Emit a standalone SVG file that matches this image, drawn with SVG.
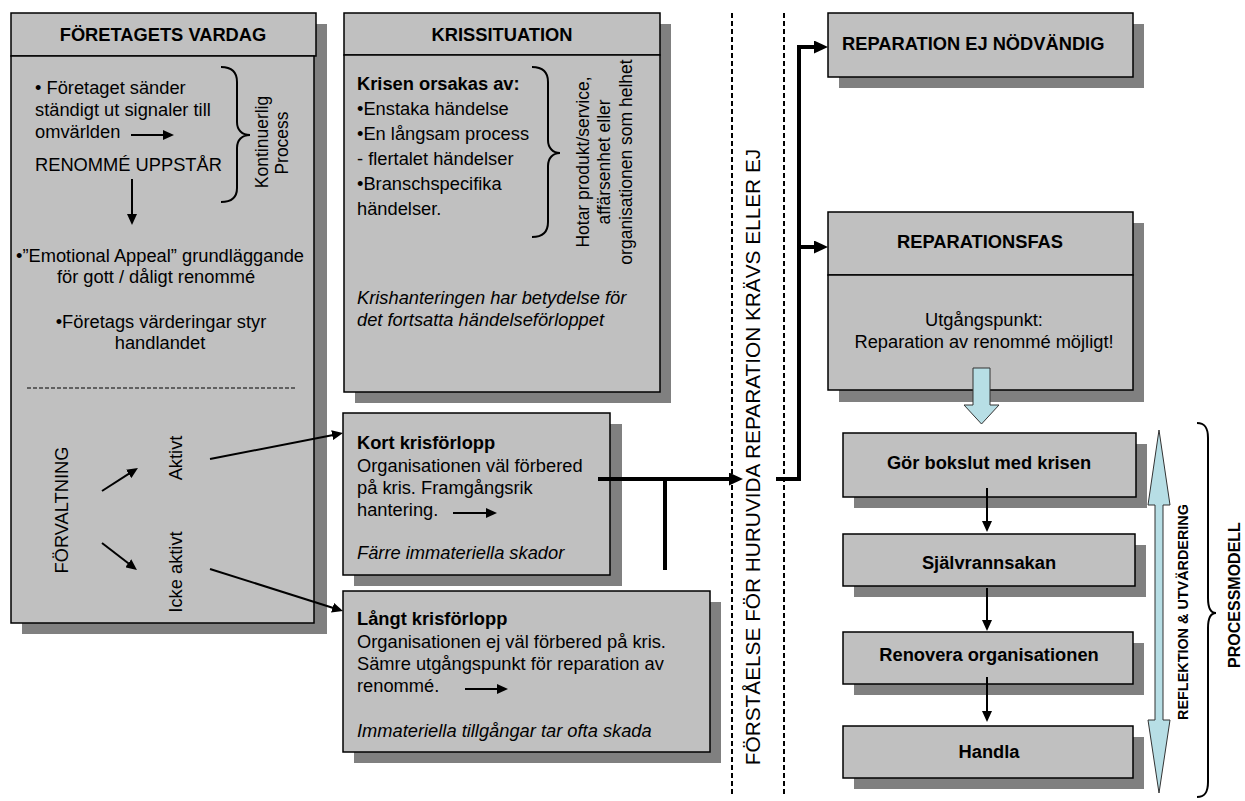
<svg xmlns="http://www.w3.org/2000/svg" width="1245" height="801" viewBox="0 0 1245 801">
<style>
text{font-family:"Liberation Sans",Arial,sans-serif;fill:#000}
.t{font-size:18.3px}
.b{font-weight:bold}
.i{font-style:italic}
.s{font-size:17.5px}
.c{text-anchor:middle}
.box{fill:#c0c0c0;stroke:#000;stroke-width:1.5}
.sh{fill:#808080}
.thin{stroke:#000;stroke-width:2;fill:none}
.thick{stroke:#000;stroke-width:4;fill:none}
.blue{fill:#b7dee5;stroke:#333;stroke-width:1}
.dash{stroke:#000;stroke-width:2;stroke-dasharray:5 3;fill:none}
</style>
<defs>
<marker id="a" viewBox="0 0 11 10" refX="5" refY="5" markerWidth="11" markerHeight="10" markerUnits="userSpaceOnUse" orient="auto"><path d="M0,0L11,5L0,10z"/></marker>
<marker id="A" viewBox="0 0 14 13" refX="7" refY="6.5" markerWidth="14" markerHeight="13" markerUnits="userSpaceOnUse" orient="auto"><path d="M0,0L14,6.5L0,13z"/></marker>
</defs>
<rect width="1245" height="801" fill="#fff"/>

<g id="vardag">
<rect class="sh" x="22" y="24" width="305" height="610"/>
<rect class="box" x="11" y="13" width="305" height="43"/>
<rect class="box" x="11" y="56" width="303" height="567"/>
<text class="t b c" x="163" y="41">FÖRETAGETS VARDAG</text>
<text class="t" x="35" y="94">• Företaget sänder</text>
<text class="t" x="35" y="116">ständigt ut signaler till</text>
<text class="t" x="35" y="138">omvärlden</text>
<line class="thin" x1="131" y1="135" x2="168" y2="135" marker-end="url(#a)"/>
<text class="t" x="35" y="171">RENOMMÉ UPPSTÅR</text>
<line class="thin" x1="132" y1="179" x2="132" y2="219" marker-end="url(#a)"/>
<path class="thin" stroke-width="1.5" d="M221,67 C232,67 237,72 237,82 L237,122 C237,130 242,135 250,135 C242,135 237,140 237,148 L237,188 C237,197 232,202 221,202"/>
<text class="s c" transform="translate(268,142) rotate(-90)">Kontinuerlig</text>
<text class="s c" transform="translate(288,143) rotate(-90)">Process</text>
<text class="t c" x="160" y="262">•”Emotional Appeal” grundläggande</text>
<text class="t c" x="156" y="283">för gott / dåligt renommé</text>
<text class="t c" x="161" y="328">•Företags värderingar styr</text>
<text class="t c" x="160" y="349">handlandet</text>
<line x1="27" y1="388" x2="295" y2="388" stroke="#000" stroke-width="1" stroke-dasharray="4 2"/>
<text class="t c" transform="translate(68,510) rotate(-90)">FÖRVALTNING</text>
<text class="t c" transform="translate(182,458) rotate(-90)">Aktivt</text>
<text class="t c" transform="translate(182,572) rotate(-90)">Icke aktivt</text>
</g>

<g id="krissituation">
<rect class="sh" x="355" y="24" width="316" height="379"/>
<rect class="box" x="344" y="13" width="316" height="42"/>
<rect class="box" x="344" y="55" width="316" height="337"/>
<text class="t b c" x="502" y="41">KRISSITUATION</text>
<text class="t b" x="357" y="90">Krisen orsakas av:</text>
<text class="t" x="357" y="115">•Enstaka händelse</text>
<text class="t" x="357" y="140">•En långsam process</text>
<text class="t" x="357" y="165">- flertalet händelser</text>
<text class="t" x="357" y="190">•Branschspecifika</text>
<text class="t" x="357" y="215">händelser.</text>
<path class="thin" stroke-width="1.5" d="M532,67 C543,67 548,72 548,82 L548,140 C548,148 553,153 560,153 C553,153 548,158 548,166 L548,222 C548,232 543,237 532,237"/>
<text class="s c" transform="translate(589,162) rotate(-90)">Hotar produkt/service,</text>
<text class="s c" transform="translate(610,162) rotate(-90)">affärsenhet eller</text>
<text class="s c" transform="translate(632,162) rotate(-90)">organisationen som helhet</text>
<text class="t i" x="357" y="304">Krishanteringen har betydelse för</text>
<text class="t i" x="357" y="326">det fortsatta händelseförloppet</text>
</g>

<g id="kort">
<rect class="sh" x="354" y="424" width="268" height="162"/>
<rect class="box" x="343" y="413" width="267" height="162"/>
<text class="t b" x="357" y="449">Kort krisförlopp</text>
<text class="t" x="357" y="472">Organisationen väl förbered</text>
<text class="t" x="357" y="494">på kris. Framgångsrik</text>
<text class="t" x="357" y="516">hantering.</text>
<line class="thin" x1="453" y1="513" x2="491" y2="513" marker-end="url(#a)"/>
<text class="t i" x="357" y="559">Färre immateriella skador</text>
</g>

<g id="langt">
<rect class="sh" x="354" y="602" width="367" height="161"/>
<rect class="box" x="343" y="591" width="367" height="161"/>
<text class="t b" x="357" y="625">Långt krisförlopp</text>
<text class="t" x="357" y="648">Organisationen ej väl förbered på kris.</text>
<text class="t" x="357" y="670">Sämre utgångspunkt för reparation av</text>
<text class="t" x="357" y="692">renommé.</text>
<line class="thin" x1="465" y1="689" x2="502" y2="689" marker-end="url(#a)"/>
<text class="t i" x="357" y="737">Immateriella tillgångar tar ofta skada</text>
</g>

<g id="forstaelse">
<line class="dash" x1="732" y1="13" x2="732" y2="797"/>
<line class="dash" x1="784" y1="13" x2="784" y2="797"/>
<text class="c" font-size="20.8" transform="translate(760,457) rotate(-90)">FÖRSTÅELSE FÖR HURUVIDA REPARATION KRÄVS ELLER EJ</text>
</g>

<g id="ej-nodvandig">
<rect class="sh" x="839" y="24" width="305" height="64"/>
<rect class="box" x="828" y="13" width="305" height="64"/>
<text class="t b" x="842" y="50">REPARATION EJ NÖDVÄNDIG</text>
</g>

<g id="reparationsfas">
<rect class="sh" x="839" y="223" width="305" height="179"/>
<rect class="box" x="828" y="212" width="305" height="63"/>
<rect class="box" x="828" y="275" width="305" height="115"/>
<text class="t b c" x="980" y="248">REPARATIONSFAS</text>
<text class="t c" x="984" y="326">Utgångspunkt:</text>
<text class="t c" x="984" y="348">Reparation av renommé möjligt!</text>
<polygon class="blue" points="973,368 990,368 990,405 999,405 981.5,424 964,405 973,405"/>
</g>

<g id="bokslut">
<rect class="sh" x="854" y="444" width="293" height="64"/>
<rect class="box" x="843" y="433" width="293" height="64"/>
<text class="t b c" x="989" y="469">Gör bokslut med krisen</text>
</g>
<g id="sjalvrannsakan">
<rect class="sh" x="854" y="545" width="292" height="52"/>
<rect class="box" x="843" y="534" width="292" height="52"/>
<text class="t b c" x="989" y="569">Självrannsakan</text>
</g>
<g id="renovera">
<rect class="sh" x="854" y="643" width="290" height="52"/>
<rect class="box" x="843" y="632" width="290" height="52"/>
<text class="t b c" x="989" y="661">Renovera organisationen</text>
</g>
<g id="handla">
<rect class="sh" x="854" y="737" width="290" height="52"/>
<rect class="box" x="843" y="726" width="290" height="52"/>
<text class="t b c" x="989" y="758">Handla</text>
</g>

<g id="reflektion">
<polygon class="blue" points="1159,430 1170,505 1163,505 1163,720 1170,720 1159,793 1148,720 1155,720 1155,505 1148,505"/>
<text class="b c" font-size="14.4" transform="translate(1188,612) rotate(-90)">REFLEKTION &amp; UTVÄRDERING</text>
</g>

<g id="processmodell">
<path class="thin" stroke-width="1.5" d="M1197,423 C1205,423 1208,428 1208,438 L1208,598 C1208,608 1210,613 1216,613 C1210,613 1208,618 1208,628 L1208,782 C1208,792 1205,797 1197,797"/>
<text class="b c" font-size="16" transform="translate(1240,595) rotate(-90)">PROCESSMODELL</text>
</g>

<g id="connectors">
<line class="thin" x1="102" y1="491" x2="132.9" y2="471.2" marker-end="url(#a)"/>
<line class="thin" x1="102" y1="543" x2="132.2" y2="566.3" marker-end="url(#a)"/>
<line class="thin" x1="210" y1="459" x2="337.1" y2="434.2" marker-end="url(#a)"/>
<line class="thin" x1="210" y1="569" x2="337.3" y2="609.2" marker-end="url(#a)"/>
<line class="thick" x1="598" y1="479" x2="736" y2="479" marker-end="url(#A)"/>
<line class="thick" x1="665" y1="479" x2="665" y2="570"/>
<path class="thick" d="M776,479 H799 V47 H821" marker-end="url(#A)"/>
<line class="thick" x1="799" y1="247" x2="821" y2="247" marker-end="url(#A)"/>
<line class="thin" x1="987" y1="488" x2="987" y2="526" marker-end="url(#a)"/>
<line class="thin" x1="987" y1="588" x2="987" y2="625" marker-end="url(#a)"/>
<line class="thin" x1="987" y1="677" x2="987" y2="716" marker-end="url(#a)"/>
</g>
</svg>
